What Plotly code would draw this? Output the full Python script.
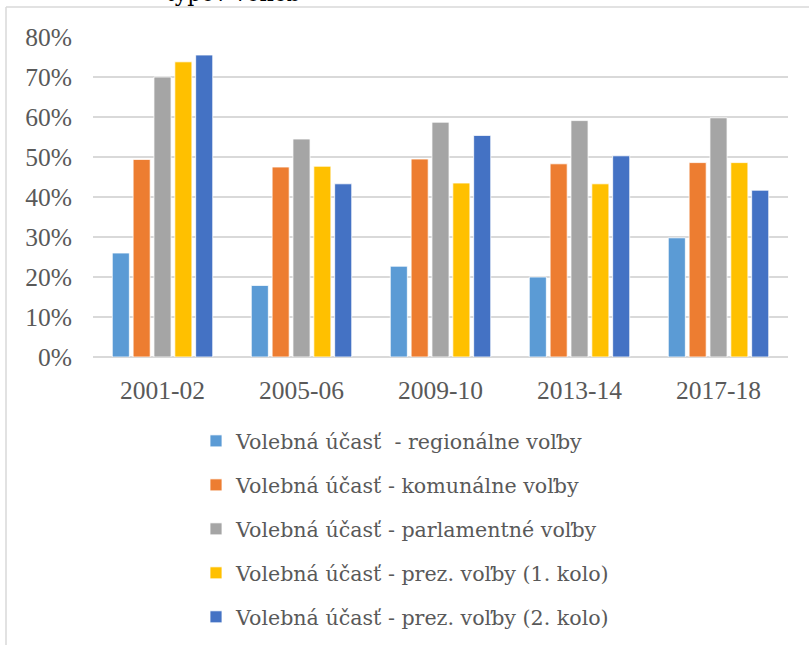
import plotly.graph_objects as go

categories = ["2001-02", "2005-06", "2009-10", "2013-14", "2017-18"]
series_names = [
    "Volebná účasť  - regionálne voľby",
    "Volebná účasť - komunálne voľby",
    "Volebná účasť - parlamentné voľby",
    "Volebná účasť - prez. voľby (1. kolo)",
    "Volebná účasť - prez. voľby (2. kolo)",
]
regionalne = [0.260, 0.179, 0.227, 0.200, 0.298]
komunalne = [0.494, 0.475, 0.495, 0.483, 0.486]
parlamentne = [0.700, 0.545, 0.587, 0.591, 0.598]
prez_1 = [0.738, 0.477, 0.435, 0.433, 0.486]
prez_2 = [0.755, 0.433, 0.554, 0.503, 0.417]
y_ticks = [0, 0.1, 0.2, 0.3, 0.4, 0.5, 0.6, 0.7, 0.8]
colors = ["#5B9BD5", "#ED7D31", "#A5A5A5", "#FFC000", "#4472C4"]

values = [regionalne, komunalne, parlamentne, prez_1, prez_2]

FONT = "DejaVu Serif"
TICKFONT = "Liberation Serif"
GRAY = "#595959"

fig = go.Figure()
for i, (name, vals) in enumerate(zip(series_names, values)):
    fig.add_trace(go.Bar(
        x=categories, y=vals, name=name,
        marker=dict(color=colors[i], line=dict(color="white", width=0.8)),
        legendgroup=f"g{i}",
    ))

W, H = 809, 645
L, R, T, B = 93, 21, 37, 288
pw, ph = W - L - R, H - T - B

def px_x(x):
    return (x - L) / pw

def px_y(y):
    return (H - B - y) / ph

fig.update_layout(
    width=W, height=H,
    margin=dict(l=L, r=R, t=T, b=B, autoexpand=False),
    paper_bgcolor="white", plot_bgcolor="white",
    barmode="group", bargap=0.25, bargroupgap=0.18,
    font=dict(family=FONT, color=GRAY, size=20),
    showlegend=True,
    legend=dict(
        x=px_x(196), y=px_y(421), xanchor="left", yanchor="top",
        orientation="v", tracegroupgap=14.2,
        font=dict(family=FONT, size=20.6, color=GRAY),
        itemwidth=30, traceorder="grouped",
    ),
    xaxis=dict(
        type="category",
        showgrid=False, showline=False, ticks="",
        tickfont=dict(family=TICKFONT, size=25.5, color=GRAY),
        ticklabelstandoff=15,
    ),
    yaxis=dict(
        range=[0, 0.8], tickvals=y_ticks, tickformat=".0%",
        showgrid=True, gridcolor="#D9D9D9", gridwidth=1.5,
        zeroline=True, zerolinecolor="#D9D9D9", zerolinewidth=1.5,
        showline=False, ticks="",
        tickfont=dict(family=TICKFONT, size=25.5, color=GRAY),
        ticklabelstandoff=20,
    ),
    shapes=[
        dict(type="line", xref="paper", yref="paper",
             x0=px_x(6), x1=px_x(809), y0=px_y(7), y1=px_y(7),
             line=dict(color="#D9D9D9", width=1.5)),
        dict(type="line", xref="paper", yref="paper",
             x0=px_x(6), x1=px_x(6), y0=px_y(7), y1=px_y(645),
             line=dict(color="#D9D9D9", width=1.5)),
    ],
    annotations=[
        dict(text="typov volieb", xref="paper", yref="paper",
             x=px_x(233), y=px_y(8), xanchor="center", yanchor="bottom",
             showarrow=False, font=dict(family=FONT, size=22, color="black")),
    ],
)

fig.write_html(
    "out.html",
    config={"displayModeBar": False},
    post_script="document.body.style.margin='0px';document.body.style.padding='0px';",
)
